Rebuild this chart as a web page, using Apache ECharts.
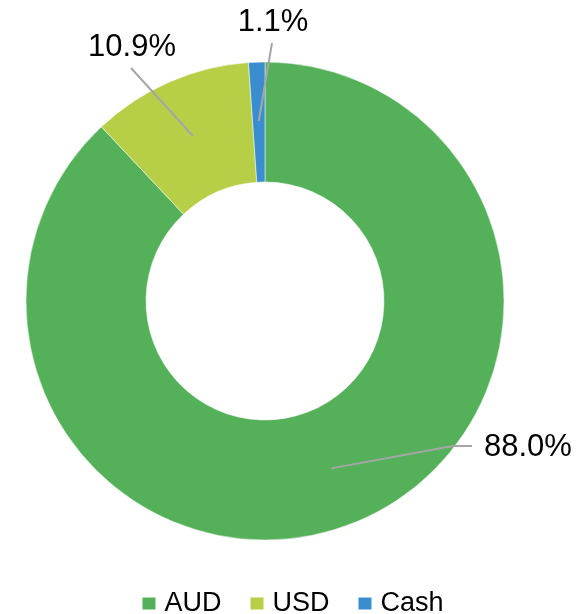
<!DOCTYPE html>
<html>
<head>
<meta charset="utf-8">
<script src="https://cdn.jsdelivr.net/npm/echarts@6/dist/echarts.min.js"></script>
<style>
  html, body { margin: 0; padding: 0; background: #fff; }
  #chart { width: 584px; height: 614px; }
</style>
</head>
<body>
<div id="chart"></div>
<script>
// data
var categories = ["AUD", "USD", "Cash"];
var shares = [88.0, 10.9, 1.1];
var colors = ["#55b05a", "#b7cf46", "#3a8ecf"];

// where each label sits (text anchor), Excel-style placement
var labelSpots = [
  { x: 484, y: 447, align: "left" },
  { x: 132, y: 47, align: "center" },
  { x: 273, y: 22, align: "center" }
];

var cx = 265, cy = 301, rIn = 119, rOut = 239;

var chart = echarts.init(document.getElementById("chart"));

// leader line starts in the middle of the ring, like the original
function leader(params) {
  var i = params.dataIndex;
  var spot = labelSpots[i];
  var p0 = params.labelLinePoints ? params.labelLinePoints[0] : [cx, cy - rOut];
  var dx = p0[0] - cx, dy = p0[1] - cy;
  var len = Math.sqrt(dx * dx + dy * dy) || 1;
  var rMid = (rIn + rOut) / 2 + 1;
  var start = [cx + dx / len * rMid, cy + dy / len * rMid];
  var pts;
  if (spot.align === "left") {
    pts = [start, [spot.x - 31, spot.y - 1], [spot.x - 12, spot.y - 1]];
  } else {
    var end = [spot.x - 1, spot.y + 21];
    pts = [start, end, end];
  }
  return {
    x: spot.x,
    y: spot.y,
    align: spot.align,
    verticalAlign: "middle",
    labelLinePoints: pts
  };
}

var pieData = categories.map(function (c, i) {
  return { name: c, value: shares[i] };
});

chart.setOption({
  animation: false,
  color: colors,
  legend: {
    data: categories,
    left: "center",
    top: 585,
    icon: "rect",
    itemWidth: 15,
    itemHeight: 14,
    itemGap: 27,
    textStyle: {
      fontFamily: "Liberation Sans",
      fontSize: 27,
      color: "#000",
      padding: [0, 0, 0, 3]
    }
  },
  series: [
    {
      // the ring itself
      type: "pie",
      center: [cx, cy],
      radius: [rIn, rOut],
      startAngle: 90,
      clockwise: true,
      itemStyle: { borderColor: "#fff", borderWidth: 0.5 },
      label: { show: false },
      labelLine: { show: false },
      emphasis: { disabled: true },
      data: pieData
    },
    {
      // same ring, invisible, on top: carries the labels and leader lines
      type: "pie",
      z: 5,
      silent: true,
      center: [cx, cy],
      radius: [rIn, rOut],
      startAngle: 90,
      clockwise: true,
      avoidLabelOverlap: false,
      itemStyle: { color: "transparent" },
      label: {
        show: true,
        position: "outside",
        formatter: function (p) { return p.value.toFixed(1) + "%"; },
        fontFamily: "Liberation Sans",
        fontSize: 31,
        color: "#000"
      },
      labelLine: {
        show: true,
        length: 10,
        length2: 10,
        lineStyle: { color: "#a6a6a6", width: 2 }
      },
      labelLayout: leader,
      emphasis: { disabled: true },
      data: pieData
    }
  ]
});
</script>
</body>
</html>
